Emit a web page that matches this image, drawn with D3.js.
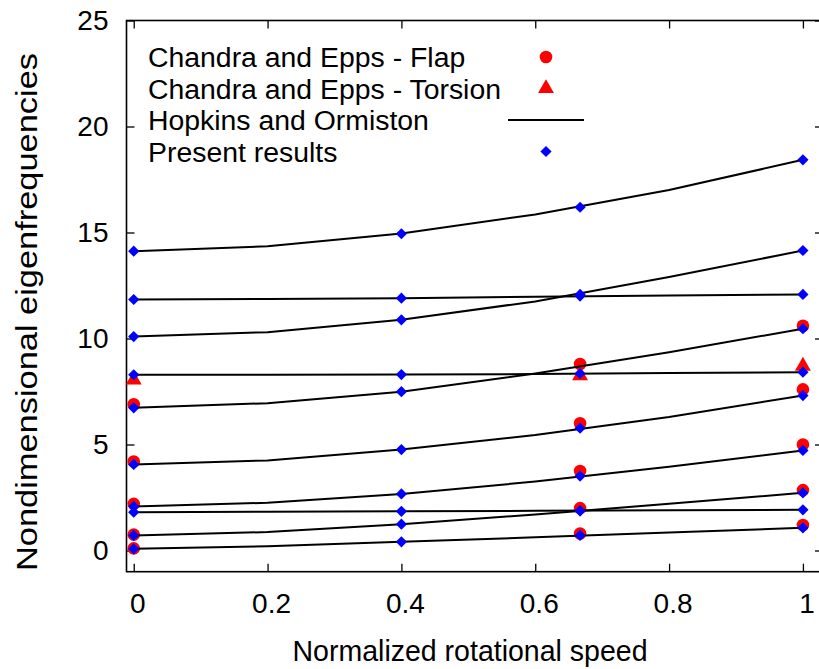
<!DOCTYPE html>
<html>
<head>
<meta charset="utf-8">
<script src="https://cdn.jsdelivr.net/npm/d3@7.9.0/dist/d3.min.js"></script>
<style>
  body { margin: 0; background: #fff; }
  svg { display: block; font-family: "Liberation Sans", Arial, sans-serif; }
  .axis path { display: none; }
  .axis line { stroke: #000; stroke-width: 1.3; }
  .axis text { font-size: 28px; fill: #000; font-family: "Liberation Sans", Arial, sans-serif; }
</style>
</head>
<body>
<svg width="819" height="669"></svg>
<script>
// x positions
const speeds = [0, 0.4, 0.667, 1];
const hopkinsSpeeds = [0, 0.2, 0.4, 0.6, 0.8, 1];

// Hopkins and Ormiston (one array per mode)
const hopkins = [
  [0.08, 0.2, 0.41, 0.62, 0.85, 1.07],
  [0.71, 0.87, 1.24, 1.7, 2.2, 2.72],
  [1.81, 1.83, 1.85, 1.87, 1.9, 1.92],
  [2.08, 2.25, 2.67, 3.25, 3.95, 4.72],
  [4.06, 4.25, 4.76, 5.45, 6.3, 7.31],
  [6.73, 6.95, 7.49, 8.35, 9.35, 10.46],
  [8.29, 8.29, 8.3, 8.32, 8.37, 8.41],
  [10.09, 10.3, 10.88, 11.75, 12.9, 14.15],
  [11.84, 11.86, 11.9, 11.97, 12.03, 12.08],
  [14.12, 14.35, 14.95, 15.85, 17.0, 18.43]
];

// Present results at speeds 0, 0.4, 0.667, 1 (null = not shown)
const present = [
  [0.08, 0.41, 0.71, 1.07],
  [0.71, 1.24, 1.87, 2.72],
  [1.81, 1.85, 1.87, 1.92],
  [2.08, 2.67, 3.51, 4.72],
  [4.06, 4.76, 5.77, 7.31],
  [6.73, 7.49, null, 10.46],
  [8.29, 8.3, 8.35, 8.41],
  [10.09, 10.88, 12.08, 14.15],
  [11.84, 11.9, 12.0, 12.08],
  [14.12, 14.94, 16.19, 18.43]
];

// Chandra and Epps - Flap at speeds 0, 0.4, 0.667, 1
const flap = [
  [0.1, null, 0.8, 1.2],
  [0.75, null, 2.0, 2.85],
  [2.2, null, 3.75, 5.0],
  [4.2, null, 6.0, 7.6],
  [6.9, null, 8.8, 10.6]
];

// Chandra and Epps - Torsion
const torsion = [8.05, null, 8.25, 8.7];

const legendLabels = ["Chandra and Epps - Flap", "Chandra and Epps - Torsion", "Hopkins and Ormiston", "Present results"];
const xTicks = [0, 0.2, 0.4, 0.6, 0.8, 1];
const yTicks = [0, 5, 10, 15, 20, 25];

const svg = d3.select("svg");
const x = d3.scaleLinear().domain([-0.0108, 1.03]).range([126.5, 823]);
const y = d3.scaleLinear().domain([-1, 25]).range([571.7, 20.5]);

const fmt = d3.format("~g");

// axes, ticks pointing inward
svg.append("g").attr("class", "axis").attr("transform", `translate(0,${y(-1)})`)
  .call(d3.axisBottom(x).tickValues(xTicks).tickSize(-8).tickPadding(21).tickFormat(fmt))
  .selectAll("text").attr("dx", 3.5);
svg.append("g").attr("class", "axis").attr("transform", `translate(0,${y(25)})`)
  .call(d3.axisTop(x).tickValues(xTicks).tickSize(-8).tickFormat(""));
svg.append("g").attr("class", "axis").attr("transform", `translate(${x(-0.0108)},0)`)
  .call(d3.axisLeft(y).tickValues(yTicks).tickSize(-8).tickPadding(18).tickFormat(fmt));
svg.append("g").attr("class", "axis").attr("transform", `translate(${x(1.03)},0)`)
  .call(d3.axisRight(y).tickValues(yTicks).tickSize(-8).tickFormat(""));

// frame
svg.append("rect")
  .attr("x", x(-0.0108)).attr("y", y(25))
  .attr("width", x(1.03) - x(-0.0108)).attr("height", y(-1) - y(25))
  .attr("fill", "none").attr("stroke", "#000").attr("stroke-width", 1.6);

// axis titles
svg.append("text")
  .attr("x", 470).attr("y", 661)
  .attr("text-anchor", "middle").attr("font-size", 29.5)
  .attr("textLength", 355).attr("lengthAdjust", "spacingAndGlyphs")
  .text("Normalized rotational speed");
svg.append("text")
  .attr("transform", "translate(37,312) rotate(-90)")
  .attr("text-anchor", "middle").attr("font-size", 30)
  .attr("textLength", 518).attr("lengthAdjust", "spacingAndGlyphs")
  .text("Nondimensional eigenfrequencies");

const plot = svg.append("g");
const diamond = d3.symbol().type(d3.symbolDiamond2).size(80);
const triangle = d3.symbol().type(d3.symbolTriangle).size(110);

// red flap circles
flap.forEach(mode => {
  mode.forEach((v, i) => {
    if (v === null) return;
    plot.append("circle").attr("cx", x(speeds[i])).attr("cy", y(v)).attr("r", 6.3).attr("fill", "#ff0000");
  });
});
// red torsion triangles
torsion.forEach((v, i) => {
  if (v === null) return;
  plot.append("path").attr("d", triangle).attr("transform", `translate(${x(speeds[i])},${y(v)})`).attr("fill", "#ff0000");
});

// Hopkins lines
const line = d3.line().x((d, i) => x(hopkinsSpeeds[i])).y(d => y(d));
hopkins.forEach(mode => {
  plot.append("path").attr("d", line(mode)).attr("fill", "none").attr("stroke", "#000").attr("stroke-width", 2);
});

// present results diamonds
present.forEach(mode => {
  mode.forEach((v, i) => {
    if (v === null) return;
    plot.append("path").attr("d", diamond).attr("transform", `translate(${x(speeds[i])},${y(v)})`).attr("fill", "#0000ff");
  });
});

// legend
const legend = svg.append("g");
const rowY = [57, 88.5, 120, 151.5];
legendLabels.forEach((lab, i) => {
  legend.append("text").attr("x", 148).attr("y", rowY[i] + 10).attr("font-size", 28.4).text(lab);
});
legend.append("circle").attr("cx", 546).attr("cy", rowY[0]).attr("r", 6.3).attr("fill", "#ff0000");
legend.append("path").attr("d", triangle).attr("transform", `translate(546,${rowY[1]})`).attr("fill", "#ff0000");
legend.append("line").attr("x1", 508).attr("x2", 584).attr("y1", rowY[2]).attr("y2", rowY[2]).attr("stroke", "#000").attr("stroke-width", 2);
legend.append("path").attr("d", diamond).attr("transform", `translate(546,${rowY[3]})`).attr("fill", "#0000ff");
</script>
</body>
</html>
